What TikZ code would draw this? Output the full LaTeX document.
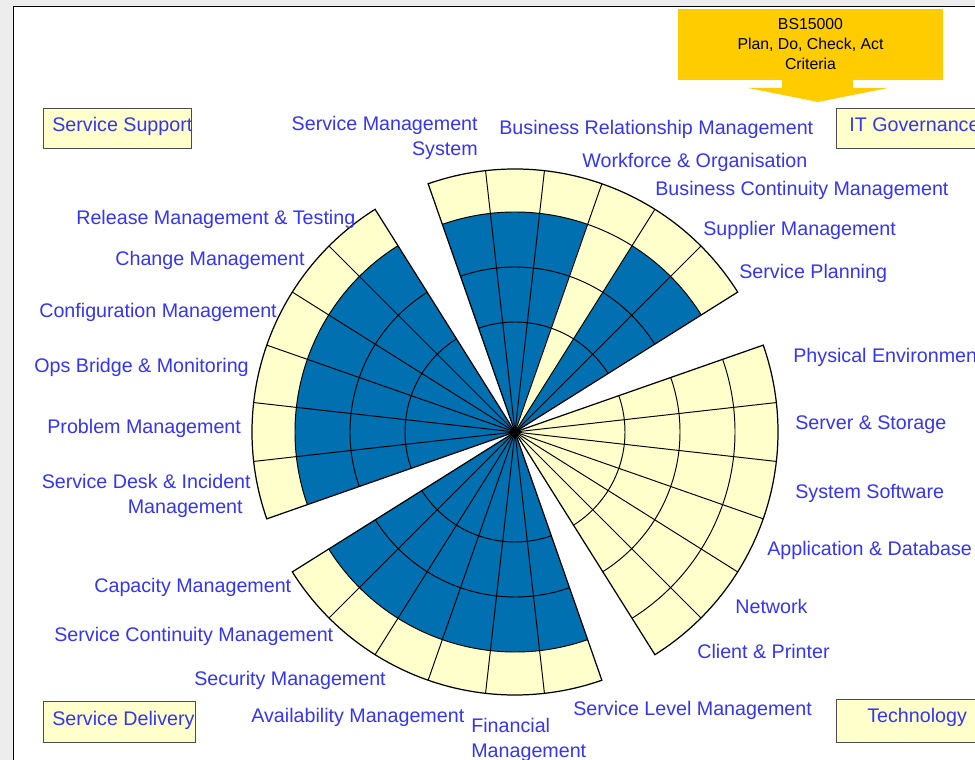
\documentclass[tikz,border=0pt]{standalone}
\usepackage{fontspec}
\setmainfont{Liberation Sans}
\usetikzlibrary{shapes}
\usetikzlibrary{calc}
\definecolor{itsm blue}{HTML}{0070B0}
\definecolor{itsm cream}{HTML}{FFFFCC}
\definecolor{itsm text}{HTML}{3535F5}
\definecolor{bs yellow}{HTML}{FFCC00}
\newcommand{\wheelfont}{\fontsize{11.2}{14.2}\selectfont}
\newcommand{\criteriafont}{\fontsize{9}{11.4}\selectfont}

\begin{document}
\begin{tikzpicture}[x = 0.02cm, y = 0.02cm,
    grid line/.style = {black, line width = 0.55pt},
    wedge line/.style = {black, line width = 0.7pt},
    area label/.style = {text = itsm text, font = \wheelfont, inner sep = 0, anchor = base west},
    group box/.style = {draw = black!70, fill = itsm cream, line width = 0.7pt, inner sep = 0, anchor = north west}]
  \useasboundingbox (0, 0) rectangle (975, -760);
  \clip (0, 0) rectangle (975, -760);
  \fill[black!7] (0, 0) rectangle (975, -760);
  \draw[line width = 1.1pt, fill = white] (13.5, -6.5) rectangle (1000, -800);

  \coordinate (hub) at (515, -432);

  % wedges: cream outer ring, blue scores
  \foreach \w/\col in {0/itsm cream, 1/itsm blue, 2/itsm blue, 3/itsm blue} {
    \pgfmathsetmacro{\a}{-57.857 + 90*\w}
    \pgfmathsetmacro{\b}{\a + 77.143}
    \fill[itsm cream] (hub) -- +(\a:263) arc[start angle = \a, end angle = \b, radius = 263] -- cycle;
    \fill[\col] (hub) -- +(\a:220) arc[start angle = \a, end angle = \b, radius = 220] -- cycle;
  }
  \fill[itsm cream] (hub) -- +(57.857:220) arc[start angle = 57.857, end angle = 70.714, radius = 220] -- cycle;

  \foreach \w in {0, 1, 2, 3} {
    \pgfmathsetmacro{\a}{-57.857 + 90*\w}
    \pgfmathsetmacro{\b}{\a + 77.143}
    \foreach \r in {110, 165, 220} {
      \draw[grid line] (hub) ++(\a:\r) arc[start angle = \a, end angle = \b, radius = \r];
    }
    \foreach \k in {1, ..., 5} {
      \pgfmathsetmacro{\c}{\a + \k*12.857}
      \draw[grid line] (hub) -- +(\c:263);
    }
    \draw[wedge line] (hub) -- +(\a:263) arc[start angle = \a, end angle = \b, radius = 263] -- cycle;
  }

  % sector names
  \foreach \n/\x/\y/\t in {
      bizrel/499/135/Business Relationship Management,
      workforce/582/168/Workforce \& Organisation,
      bcm/655/196/Business Continuity Management,
      supplier/703/236/Supplier Management,
      planning/739/279/Service Planning,
      physical/793/363/Physical Environment,
      server/795/430/Server \& Storage,
      syssoft/795/499/System Software,
      appdb/767/556/Application \& Database,
      network/735/614/Network,
      client/697/659/Client \& Printer,
      slm/573/715/Service Level Management,
      availability/251/723/Availability Management,
      security/194/685/Security Management,
      itscm/54/642/Service Continuity Management,
      capacity/94/593/Capacity Management,
      problem/47/434/Problem Management,
      opsbridge/34/373/Ops Bridge \& Monitoring,
      config/39/318/Configuration Management,
      change/115/266/Change Management,
      release/76/225/Release Management \& Testing} {
    \node[area label] (\n) at (\x, -\y) {\t};
  }
  \node[area label, anchor = east, align = right] (sms) at (478, -138) {Service Management\\System};
  \node[area label, anchor = east, align = right] (sdim) at (251, -495.5) {Service Desk \& Incident\\Management\hspace*{0.16cm}};
  \node[area label, anchor = west, align = left] (finance) at (471, -739.5) {Financial\\Management};

  % group boxes
  \node[group box, minimum width = 2.96cm, minimum height = 0.8cm] (support) at (43, -108) {};
  \node[area label] (support text) at (52, -132) {Service Support};
  \node[group box, minimum width = 3.04cm, minimum height = 0.82cm] (delivery) at (43, -701) {};
  \node[area label] (delivery text) at (52, -725) {Service Delivery};
  \node[group box, minimum width = 3.6cm, minimum height = 0.8cm] (governance) at (836, -108) {};
  \node[area label] (governance text) at (849, -132) {IT Governance};
  \node[group box, minimum width = 3.6cm, minimum height = 0.86cm] (technology) at (836, -699) {};
  \node[area label] (technology text) at (867, -723) {Technology};

  % BS15000 criteria arrow
  \fill[bs yellow] (678, -9) rectangle (943, -80);
  \fill[bs yellow] (782, -79) -- (782, -88) -- (748, -88) -- (818, -102) %
    -- (888, -88) -- (853, -88) -- (853, -79) -- cycle;
  \node[font = \criteriafont, align = center, inner sep = 0] (criteria) at (810.5, -44) {BS15000\\Plan, Do, Check, Act\\Criteria};
\end{tikzpicture}
\end{document}
